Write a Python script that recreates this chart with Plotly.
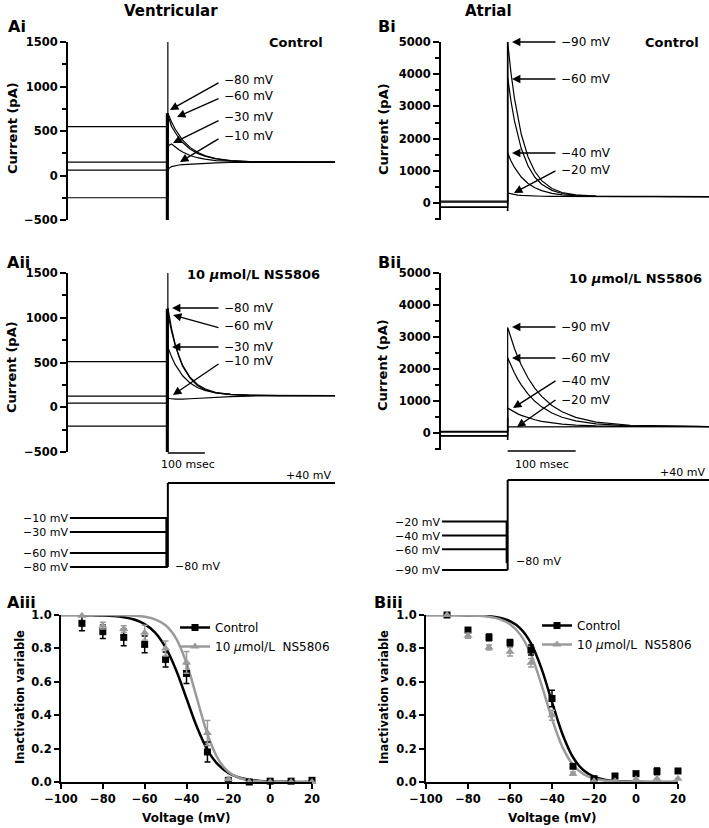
import plotly.graph_objects as go

W, H = 709, 828
FONT = "DejaVu Sans"
GRAY = "#9a9a9a"

# ---------------- data ----------------
# Voltage-clamp current traces (time in ms, current in pA)
A_step_ms = 270
A_end_ms = 722
A_dt = [0, 3, 10, 20, 30, 40, 60, 80, 100, 130, 170, 220, 300, 452]

Ai_labels = ["\u221280 mV", "\u221260 mV", "\u221230 mV", "\u221210 mV"]
Ai_pre = [-250, 60, 150, 550]
Ai_post = [
    [700, 668, 600, 519, 452, 397, 316, 261, 224, 191, 168, 157, 151, 150],
    [600, 640, 551, 478, 419, 370, 298, 249, 216, 187, 166, 156, 151, 150],
    [300, 340, 355, 320, 290, 265, 225, 200, 183, 168, 158, 153, 151, 150],
    [60, 80, 100, 112, 118, 122, 128, 133, 137, 142, 146, 148, 150, 150],
]
Ai_spike = [-500, 1500]
Ai_spike_thick = [-500, 700]

Aii_pre = [-210, 45, 125, 510]
Aii_post = [
    [1110, 1035, 878, 702, 563, 459, 326, 242, 195, 159, 140, 133, 130, 130],
    [1050, 984, 847, 688, 565, 468, 335, 255, 206, 165, 143, 134, 131, 130],
    [670, 635, 563, 476, 407, 352, 272, 221, 188, 160, 143, 135, 131, 130],
    [100, 100, 95, 90, 88, 90, 95, 100, 105, 112, 118, 125, 130, 130],
]
Aii_spike = [-500, 1500]
Aii_spike_thick = [-500, 1100]

B_step_ms = 98
B_end_ms = 394
B_dt = [0, 2, 5, 10, 15, 20, 30, 40, 50, 65, 80, 100, 130, 180, 296]

Bi_labels = ["\u221290 mV", "\u221260 mV", "\u221240 mV", "\u221220 mV"]
Bi_pre = [-140, -120, 30, 60]
Bi_post = [
    [5000, 4583, 4023, 3248, 2629, 2134, 1429, 978, 694, 450, 326, 251, 213, 203, 200],
    [3900, 3578, 3149, 2550, 2072, 1691, 1147, 799, 581, 392, 296, 239, 210, 201, 200],
    [1550, 1446, 1305, 1105, 941, 807, 607, 471, 383, 300, 255, 225, 207, 201, 200],
    [310, 300, 280, 260, 245, 235, 222, 215, 210, 205, 203, 201, 200, 200, 200],
]
Bi_spike = [-250, 5000]

Bii_pre = [-100, -80, 30, 50]
Bii_post = [
    [3300, 3156, 2952, 2643, 2369, 2126, 1718, 1396, 1143, 859, 662, 487, 340, 243, 200],
    [2350, 2245, 2097, 1875, 1677, 1505, 1215, 991, 817, 624, 491, 377, 283, 224, 200],
    [780, 752, 712, 652, 598, 552, 474, 413, 366, 314, 278, 248, 223, 206, 200],
    [190, 190, 190, 192, 193, 195, 197, 198, 199, 200, 200, 200, 200, 200, 200],
]
Bii_spike = [-220, 480]

scale_bar_ms = 100

# Voltage protocols (mV)
protoA_levels = [-10, -30, -60, -80]
protoB_levels = [-20, -40, -60, -90]
proto_test_mV = 40
proto_hold_mV = -80

# Steady-state inactivation
volt = [-90, -80, -70, -60, -50, -40, -30, -20, -10, 0, 10, 20]
Aiii_ctrl = [0.95, 0.90, 0.866, 0.824, 0.734, 0.65, 0.18, 0.01, 0.0, 0.005, 0.005, 0.01]
Aiii_ctrl_err = [0.045, 0.04, 0.05, 0.05, 0.045, 0.06, 0.06, 0.005, 0, 0, 0, 0]
Aiii_ns = [0.996, 0.936, 0.916, 0.894, 0.80, 0.716, 0.294, 0.016, 0.0, 0.0, 0.0, 0.0]
Aiii_ns_err = [0.0, 0.02, 0.02, 0.045, 0.045, 0.065, 0.075, 0.005, 0, 0, 0, 0]

Biii_ctrl = [1.0, 0.91, 0.866, 0.834, 0.79, 0.50, 0.094, 0.02, 0.036, 0.05, 0.064, 0.066]
Biii_ctrl_err = [0.0, 0.012, 0.02, 0.02, 0.03, 0.05, 0.0, 0.0, 0.0, 0.0, 0.02, 0.0]
Biii_ns = [1.0, 0.876, 0.806, 0.78, 0.714, 0.40, 0.05, 0.004, 0.004, 0.016, 0.02, 0.02]
Biii_ns_err = [0.0, 0.015, 0.015, 0.025, 0.025, 0.03, 0.01, 0, 0, 0, 0, 0]

fit_v = [-100, -95, -90, -85, -80, -75, -70, -65, -60, -55, -50, -45, -40, -35, -30,
         -25, -20, -15, -10, -5, 0, 5, 10, 15, 20]
Aiii_fit_ctrl = [0.9998, 0.9996, 0.9992, 0.9984, 0.9967, 0.9933, 0.9865, 0.9727, 0.9457,
                 0.895, 0.806, 0.671, 0.5, 0.329, 0.193, 0.105, 0.054, 0.027, 0.0136,
                 0.0067, 0.0033, 0.0016, 0.0008, 0.0004, 0.0002]
Aiii_fit_ns = [1.0, 1.0, 1.0, 0.9999, 0.9997, 0.9993, 0.9983, 0.9957, 0.9895, 0.9743,
               0.9386, 0.8605, 0.7128, 0.5, 0.2872, 0.140, 0.0614, 0.0256, 0.0105,
               0.0043, 0.0017, 0.0007, 0.0003, 0.0001, 0.0]
Biii_fit_ctrl = [0.99995, 0.9999, 0.9997, 0.9994, 0.9986, 0.9968, 0.9927, 0.9834, 0.9627,
                 0.918, 0.830, 0.679, 0.479, 0.286, 0.148, 0.070, 0.0318, 0.0141, 0.0062,
                 0.0027, 0.0012, 0.0005, 0.0002, 0.0001, 0.0]
Biii_fit_ns = [0.99992, 0.9998, 0.9996, 0.9991, 0.9979, 0.9952, 0.989, 0.975, 0.944,
               0.881, 0.763, 0.582, 0.378, 0.209, 0.103, 0.047, 0.0213, 0.0093, 0.0040,
               0.0017, 0.0008, 0.0003, 0.0001, 0.0, 0.0]

legend_names = ["Control", "10 <i>\u03bc</i>mol/L  NS5806"]

# ---------------- layout helpers ----------------
def px(x):
    return x / W

def py(y):
    return 1 - y / H

def dom_x(a, b):
    return [px(a), px(b)]

def dom_y(top, bottom):
    return [py(bottom), py(top)]

fig = go.Figure()
lay = {}

# axis n: (x domain px, y domain px top/bottom, xrange, yrange)
panels = {
    1: ((68, 335), (42, 220), (0, A_end_ms), (-500, 1500)),       # Ai
    2: ((441, 709), (42, 220), (0, B_end_ms), (-528, 5000)),      # Bi
    3: ((68, 335), (273, 452), (0, A_end_ms), (-500, 1500)),      # Aii
    4: ((441, 709), (273, 450), (0, B_end_ms), (-531, 5000)),     # Bii
    5: ((68, 335), (470, 580), (0, A_end_ms), (-98.6, 58.6)),     # A protocol
    6: ((441, 709), (470, 580), (0, B_end_ms), (-104.4, 54.4)),   # B protocol
    7: ((61, 312), (615, 782), (-100, 20), (0, 1)),               # Aiii
    8: ((426, 678), (615, 782), (-100, 20), (0, 1)),              # Biii
}

tickfont = dict(family=FONT, size=11.5, color="black", weight="bold")

for n, (xd, yd, xr, yr) in panels.items():
    xs = "" if n == 1 else str(n)
    xa = dict(domain=dom_x(*xd), range=list(xr), anchor="y" + xs,
              showgrid=False, zeroline=False, automargin=False)
    ya = dict(domain=dom_y(*yd), range=list(yr), anchor="x" + xs,
              showgrid=False, zeroline=False, automargin=False)
    if n in (1, 2, 3, 4):
        xa["visible"] = False
        ya.update(showline=True, linewidth=2, linecolor="black", ticks="outside",
                  ticklen=6, tickwidth=2, tickcolor="black", tickfont=tickfont,
                  dtick=500 if n in (1, 3) else 1000, tick0=0,
                  minor=dict(dtick=250 if n in (1, 3) else 500, ticks="outside",
                             ticklen=4, tickwidth=1.5, tickcolor="black"))
    elif n in (5, 6):
        xa["visible"] = False
        ya["visible"] = False
    else:
        xa.update(showline=True, linewidth=2, linecolor="black", ticks="outside",
                  ticklen=5, tickwidth=2, tickcolor="black", tickfont=tickfont,
                  dtick=20, tick0=0)
        ya.update(showline=True, linewidth=2, linecolor="black", ticks="outside",
                  ticklen=5, tickwidth=2, tickcolor="black", tickfont=tickfont,
                  dtick=0.2, tick0=0, tickformat=".1f")
    lay["xaxis" + xs] = xa
    lay["yaxis" + xs] = ya


def axn(n):
    s = "" if n == 1 else str(n)
    return "x" + s, "y" + s


def line(n, x, y, w=1.2, color="black"):
    xa, ya = axn(n)
    fig.add_trace(go.Scatter(x=x, y=y, mode="lines", xaxis=xa, yaxis=ya,
                             line=dict(color=color, width=w), showlegend=False,
                             hoverinfo="skip"))


def current_panel(n, step, end, dt, pre, post, spike, spike_thick=None, spike_w=1.2):
    for base, vals in zip(pre, post):
        line(n, [0, step] + [step + d for d in dt], [base, base] + list(vals), w=1.2)
    line(n, [step, step], spike, w=spike_w)
    if spike_thick is not None:
        line(n, [step - 1.5, step - 1.5], spike_thick, w=3)


current_panel(1, A_step_ms, A_end_ms, A_dt, Ai_pre, Ai_post, Ai_spike, Ai_spike_thick)
current_panel(3, A_step_ms, A_end_ms, A_dt, Aii_pre, Aii_post, Aii_spike, Aii_spike_thick)
current_panel(2, B_step_ms, B_end_ms, B_dt, Bi_pre, Bi_post, Bi_spike, spike_w=1.6)
current_panel(4, B_step_ms, B_end_ms, B_dt, Bii_pre, Bii_post, Bii_spike, spike_w=1.6)

# protocols
def protocol(n, levels, start, step, end, sec_dt):
    for lv in levels:
        line(n, [start, step], [lv, lv], w=2)
    line(n, [step, step], [min(levels), proto_test_mV], w=2)
    line(n, [step - sec_dt, step - sec_dt], [max(levels), proto_hold_mV], w=2)
    line(n, [step, end], [proto_test_mV, proto_test_mV], w=2)

protocol(5, protoA_levels, 5, A_step_ms, A_end_ms, 4)
protocol(6, protoB_levels, 1.5, B_step_ms, B_end_ms, 1.5)

# inactivation panels
def inact(n, ctrl, ctrl_err, ns, ns_err, fit_c, fit_n, legend):
    xa, ya = axn(n)
    fig.add_trace(go.Scatter(x=fit_v, y=fit_c, mode="lines", xaxis=xa, yaxis=ya,
                             line=dict(color="black", width=2.5, shape="spline"),
                             showlegend=False, hoverinfo="skip", cliponaxis=False))
    fig.add_trace(go.Scatter(x=fit_v, y=fit_n, mode="lines", xaxis=xa, yaxis=ya,
                             line=dict(color=GRAY, width=2.5, shape="spline"),
                             showlegend=False, hoverinfo="skip", cliponaxis=False))
    fig.add_trace(go.Scatter(x=volt, y=ctrl, mode="markers", xaxis=xa, yaxis=ya,
                             marker=dict(symbol="square", size=7, color="black"),
                             error_y=dict(type="data", array=ctrl_err, color="black",
                                          thickness=1.5, width=3),
                             showlegend=False, cliponaxis=False))
    fig.add_trace(go.Scatter(x=volt, y=ns, mode="markers", xaxis=xa, yaxis=ya,
                             marker=dict(symbol="triangle-up", size=8, color=GRAY),
                             error_y=dict(type="data", array=ns_err, color=GRAY,
                                          thickness=1.5, width=3),
                             showlegend=False, cliponaxis=False))
    fig.add_trace(go.Scatter(x=[None], y=[None], mode="lines+markers", xaxis=xa, yaxis=ya,
                             name=legend_names[0], legend=legend,
                             line=dict(color="black", width=2.5),
                             marker=dict(symbol="square", size=7, color="black")))
    fig.add_trace(go.Scatter(x=[None], y=[None], mode="lines+markers", xaxis=xa, yaxis=ya,
                             name=legend_names[1], legend=legend,
                             line=dict(color=GRAY, width=2.5),
                             marker=dict(symbol="triangle-up", size=8, color=GRAY)))

inact(7, Aiii_ctrl, Aiii_ctrl_err, Aiii_ns, Aiii_ns_err, Aiii_fit_ctrl, Aiii_fit_ns, "legend")
inact(8, Biii_ctrl, Biii_ctrl_err, Biii_ns, Biii_ns_err, Biii_fit_ctrl, Biii_fit_ns, "legend2")

legfont = dict(family=FONT, size=12, color="black")
lay["legend"] = dict(x=px(175), y=py(613), xanchor="left", yanchor="top",
                     bgcolor="rgba(0,0,0,0)", font=legfont, itemwidth=30,
                     tracegroupgap=0)
lay["legend2"] = dict(x=px(537), y=py(611), xanchor="left", yanchor="top",
                      bgcolor="rgba(0,0,0,0)", font=legfont, itemwidth=30,
                      tracegroupgap=0)

# ---------------- annotations ----------------
ann = []

def text(x, y, s, size=12, bold=False, xanchor="left", angle=0, color="black"):
    ann.append(dict(x=px(x), y=py(y), xref="paper", yref="paper", text=s,
                    showarrow=False, xanchor=xanchor, yanchor="middle",
                    textangle=angle,
                    font=dict(family=FONT, size=size, color=color,
                              weight="bold" if bold else "normal")))

def arrow(tail, head):
    ann.append(dict(x=px(head[0]), y=py(head[1]), xref="paper", yref="paper",
                    ax=tail[0] - head[0], ay=tail[1] - head[1], text="",
                    showarrow=True, arrowhead=2, arrowsize=1.2, arrowwidth=1.4,
                    arrowcolor="black"))

# headings and panel labels
text(171, 11, "Ventricular", size=15, bold=True, xanchor="center")
text(488, 11, "Atrial", size=15, bold=True, xanchor="center")
text(6, 26, "Ai", size=16, bold=True)
text(376, 26, "Bi", size=16, bold=True)
text(5, 262, "Aii", size=16, bold=True)
text(376, 262, "Bii", size=16, bold=True)
text(5, 602, "Aiii", size=16, bold=True)
text(372, 602, "Biii", size=16, bold=True)

# axis titles
for (x, y) in [(12, 128), (383, 129), (11, 367), (383, 365)]:
    text(x, y, "Current (pA)", size=13, bold=True, xanchor="center", angle=-90)
text(20, 697, "Inactivation variable", size=11.5, bold=True, xanchor="center", angle=-90)
text(384, 697, "Inactivation variable", size=11.5, bold=True, xanchor="center", angle=-90)
text(187, 818, "Voltage (mV)", size=12, bold=True, xanchor="center")
text(552, 818, "Voltage (mV)", size=12, bold=True, xanchor="center")

# condition labels
text(296, 42, "Control", size=13, bold=True, xanchor="center")
text(672, 42, "Control", size=13, bold=True, xanchor="center")
text(253, 275, "10 <i>\u03bc</i>mol/L NS5806", size=13, bold=True, xanchor="center")
text(635, 279, "10 <i>\u03bc</i>mol/L NS5806", size=13, bold=True, xanchor="center")

# Ai labels + arrows
for lab, ty, tail, head in zip(Ai_labels, [80, 96, 117, 136],
                               [(220, 82), (220, 98), (220, 120), (220, 138)],
                               [(170, 110), (177, 117), (173, 143), (180, 162)]):
    text(222, ty, lab)
    arrow(tail, head)
# Aii
for lab, ty, tail, head in zip(Ai_labels, [308, 326, 347, 361],
                               [(220, 308), (220, 328), (220, 347), (220, 363)],
                               [(172, 308), (173, 315), (172, 347), (173, 395)]):
    text(222, ty, lab)
    arrow(tail, head)
# Bi
for lab, ty, tail, head in zip(Bi_labels, [42, 79, 153, 170],
                               [(557, 42), (557, 79), (557, 153), (557, 170)],
                               [(512, 42), (512, 79), (512, 153), (514, 193)]):
    text(559, ty, lab)
    arrow(tail, head)
# Bii
for lab, ty, tail, head in zip(Bi_labels, [327, 358, 381, 400],
                               [(557, 327), (557, 358), (557, 380), (557, 399)],
                               [(512, 327), (512, 358), (513, 408), (517, 427)]):
    text(559, ty, lab)
    arrow(tail, head)

# scale bars
shapes = []
for xa, step, ypx in [("x3", A_step_ms, 453), ("x4", B_step_ms, 451)]:
    shapes.append(dict(type="line", xref=xa, yref="paper", x0=step, x1=step + scale_bar_ms,
                       y0=py(ypx), y1=py(ypx), line=dict(color="black", width=1.5)))
text(188, 464, "100 msec", size=11, xanchor="center")
text(542, 464, "100 msec", size=11, xanchor="center")

# protocol labels
def mv(v):
    return ("+" if v > 0 else "\u2212") + f"{abs(v)} mV"

for lv, y in zip(protoA_levels, [518, 532, 553, 567]):
    text(70, y, mv(lv), size=11, xanchor="right")
text(173, 566, mv(proto_hold_mV), size=11)
text(333, 475, mv(proto_test_mV), size=11, xanchor="right")
for lv, y in zip(protoB_levels, [522, 536, 550, 570]):
    text(442, y, mv(lv), size=11, xanchor="right")
text(514, 561, mv(proto_hold_mV), size=11)
text(707, 472, mv(proto_test_mV), size=11, xanchor="right")

lay.update(width=W, height=H, margin=dict(l=0, r=0, t=0, b=0, autoexpand=False),
           paper_bgcolor="white", plot_bgcolor="white",
           annotations=ann, shapes=shapes, showlegend=True)
fig.update_layout(**lay)
fig.write_html("out.html", config={"displayModeBar": False},
               post_script="document.body.style.margin='0';document.body.style.overflow='hidden';")
